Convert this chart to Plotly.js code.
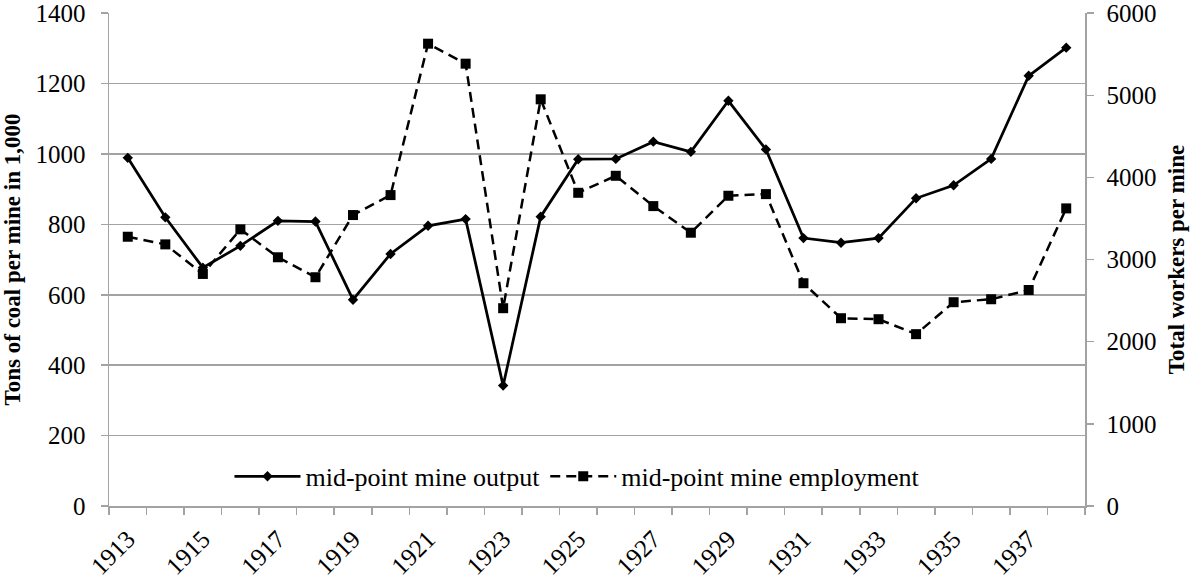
<!DOCTYPE html>
<html>
<head>
<meta charset="utf-8">
<script src="https://cdn.plot.ly/plotly-3.0.1.min.js"></script>
<style>
  html, body { margin: 0; padding: 0; background: #ffffff; }
  #chart { width: 1192px; height: 581px; }
</style>
</head>
<body>
<div id="chart"></div>
<script>
// Years (categories)
const years = [1913, 1914, 1915, 1916, 1917, 1918, 1919, 1920, 1921, 1922, 1923, 1924, 1925,
               1926, 1927, 1928, 1929, 1930, 1931, 1932, 1933, 1934, 1935, 1936, 1937, 1938];

// Mid-point mine output (tons of coal per mine, in 1,000) - left axis
const mineOutput = [989, 820, 677, 739, 810, 808, 586, 716, 796, 815, 342, 822, 985,
                    986, 1035, 1006, 1151, 1013, 761, 748, 761, 874, 911, 986, 1222, 1302];

// Mid-point mine employment (total workers per mine) - right axis
const mineEmployment = [3278, 3185, 2825, 3368, 3028, 2785, 3542, 3785, 5628, 5385, 2408, 4951, 3813,
                        4020, 3651, 3327, 3777, 3797, 2712, 2286, 2274, 2092, 2481, 2517, 2630, 3623];

// Axis tick values
const leftTicks = [0, 200, 400, 600, 800, 1000, 1200, 1400];
const rightTicks = [0, 1000, 2000, 3000, 4000, 5000, 6000];
// Labelled ticks: every other year
const tickYears = years.filter((y, i) => i % 2 === 0);

const seriesNames = ['mid-point mine output', 'mid-point mine employment'];
const leftTitle = 'Tons of coal per mine in 1,000';
const rightTitle = 'Total workers per mine';

const FONT = 'Times New Roman, Liberation Serif, Tinos, serif';
const GRID = '#a3a3a3';

const boundaries = years.map(y => y - 0.5).concat([years[years.length - 1] + 0.5]);
const pad = 1.0003;

const traces = [
  {
    x: years, y: mineOutput, name: seriesNames[0],
    type: 'scatter', mode: 'lines+markers',
    line: { color: '#000000', width: 2.75 },
    marker: { symbol: 'diamond', size: 8, color: '#000000' },
    yaxis: 'y'
  },
  {
    x: years, y: mineEmployment, name: seriesNames[1],
    type: 'scatter', mode: 'lines+markers',
    line: { color: '#000000', width: 2.5, dash: '10px,6px' },
    marker: { symbol: 'square', size: 10, color: '#000000' },
    yaxis: 'y2'
  }
];

const regFont = { family: FONT, size: 25, color: '#000000', weight: 'normal' };

const layout = {
  width: 1192, height: 581,
  margin: { l: 109, r: 107, t: 13, b: 75 },
  paper_bgcolor: '#ffffff', plot_bgcolor: '#ffffff',
  font: regFont,
  showlegend: true,
  legend: {
    orientation: 'h', x: 0.48, xanchor: 'center', y: 0.06, yanchor: 'middle',
    font: { family: FONT, size: 26, color: '#000000', weight: 'normal' },
    itemwidth: 66,
    bgcolor: 'rgba(255,255,255,0)', traceorder: 'normal'
  },
  xaxis: {
    type: 'linear', range: [years[0] - 0.5, years[years.length - 1] + 0.5],
    tickmode: 'array', tickvals: tickYears, ticktext: tickYears.map(String),
    tickangle: -45, ticks: '', ticklabelstandoff: 7, ticklabeloverflow: 'allow',
    showline: true, linecolor: GRID, linewidth: 1.5,
    showgrid: false, zeroline: false,
    tickfont: regFont,
    minor: { tickmode: 'array', tickvals: boundaries, ticks: 'outside', ticklen: 7,
             tickcolor: GRID, tickwidth: 1.5, showgrid: false }
  },
  yaxis: {
    range: [0, leftTicks[leftTicks.length - 1] * pad],
    tickmode: 'array', tickvals: leftTicks,
    showline: true, linecolor: GRID, linewidth: 1.5,
    showgrid: true, gridcolor: GRID, gridwidth: 1.5, zeroline: false,
    ticks: 'outside', ticklen: 7, tickcolor: GRID, tickwidth: 1.5,
    ticklabelstandoff: 10, ticklabeloverflow: 'allow',
    tickfont: regFont,
    title: { text: leftTitle, font: { family: FONT, size: 23, color: '#000000', weight: 'bold' }, standoff: 8 }
  },
  yaxis2: {
    range: [0, rightTicks[rightTicks.length - 1] * pad],
    tickmode: 'array', tickvals: rightTicks,
    overlaying: 'y', side: 'right',
    showline: true, linecolor: GRID, linewidth: 1.5,
    showgrid: false, zeroline: false,
    ticks: 'outside', ticklen: 7, tickcolor: GRID, tickwidth: 1.5,
    ticklabelstandoff: 8, ticklabeloverflow: 'allow',
    tickfont: regFont,
    title: { text: rightTitle, font: { family: FONT, size: 23, color: '#000000', weight: 'bold' }, standoff: 12 }
  }
};

Plotly.newPlot('chart', traces, layout, { displayModeBar: false, staticPlot: true });
</script>
</body>
</html>
